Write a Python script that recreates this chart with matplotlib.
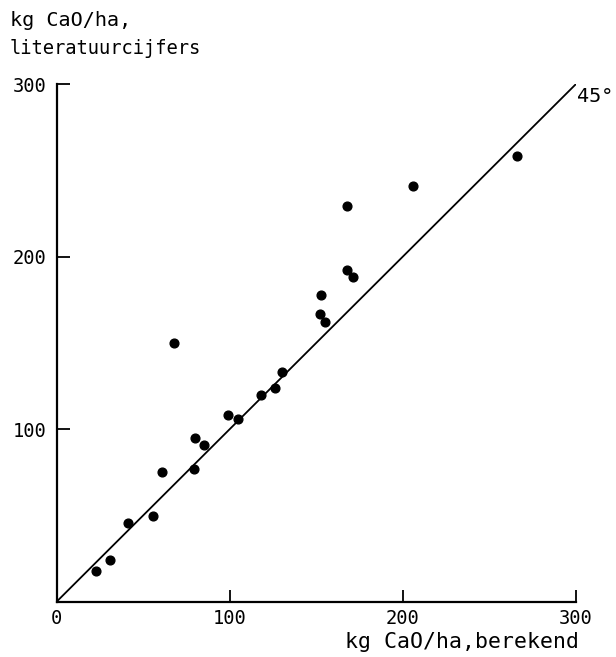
import numpy as np
import matplotlib.pyplot as plt

# kg CaO/ha: berekend (x) tegen literatuurcijfers (y)
berekend = [23, 31, 41.5, 56, 61, 79.5, 80, 85, 99, 105, 118, 126, 130,
            68, 152, 155, 153, 167.5, 171, 167.5, 206, 266]
literatuur = [18, 24, 45.5, 50, 75, 77, 95, 91, 108, 106, 120, 124, 133,
              150, 167, 162, 178, 192, 188, 229.5, 241, 258]

ticks_x = [0, 100, 200, 300]
ticks_y = [100, 200, 300]
lijn_45 = [0, 300]

plt.rcParams['font.family'] = ['DejaVu Sans Mono', 'DejaVu Sans']

fig = plt.figure(figsize=(6.16, 6.57), dpi=100)
ax = fig.add_axes([56.5 / 616, 1 - 601.8 / 657, 519.5 / 616, 517.8 / 657])

# 45 graden lijn
ax.plot(lijn_45, lijn_45, color='black', lw=1.3, solid_capstyle='butt')
ax.plot(berekend, literatuur, 'o', color='black', ms=6.3, mec='black')

ax.set_xlim(0, 300)
ax.set_ylim(0, 300)
ax.set_xticks(ticks_x)
ax.set_yticks(ticks_y)
ax.tick_params(direction='in', length=9, width=1.3, labelsize=13.5, color='black')
ax.tick_params(axis='y', pad=7)
ax.tick_params(axis='x', pad=5)

for s in ['top', 'right']:
    ax.spines[s].set_visible(False)
for s in ['left', 'bottom']:
    ax.spines[s].set_linewidth(1.6)

ax.annotate('45°', xy=(300, 300), xytext=(1, -2), textcoords='offset points',
            ha='left', va='top', fontsize=14.5, annotation_clip=False)

fig.text(10 / 616, 1 - 11 / 657, 'kg CaO/ha,', ha='left', va='top', fontsize=14.5)
fig.text(10 / 616, 1 - 39 / 657, 'literatuurcijfers', ha='left', va='top', fontsize=13.5)
fig.text(579 / 616, 1 - 652 / 657, 'kg CaO/ha,berekend', ha='right', va='bottom', fontsize=15.5)

fig.savefig('out.png', dpi=100)
